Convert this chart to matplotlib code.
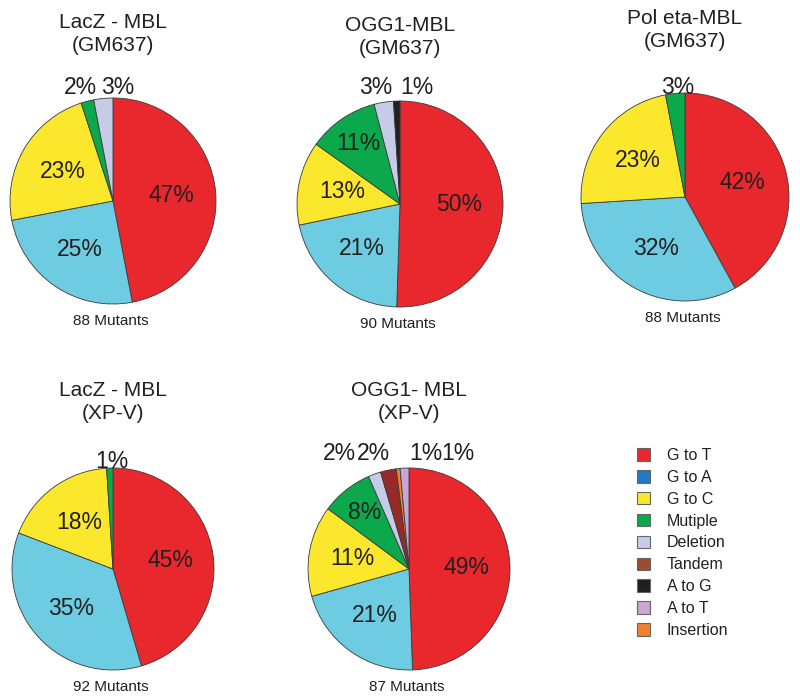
import matplotlib
matplotlib.use('Agg')
import numpy as np
import matplotlib.pyplot as plt
from matplotlib.patches import Patch

plt.rcParams['font.family'] = ['Liberation Sans', 'DejaVu Sans']

# categories (legend order = slice order, clockwise from 12 o'clock)
categories = ['G to T', 'G to A', 'G to C', 'Mutiple', 'Deletion',
              'Tandem', 'A to G', 'A to T', 'Insertion']

# pie data: titles, mutant counts, slice values (per category index), printed labels
titles = ['LacZ - MBL\n(GM637)', 'OGG1-MBL\n(GM637)', 'Pol eta-MBL\n(GM637)',
          'LacZ - MBL\n(XP-V)', 'OGG1- MBL\n(XP-V)']
mutants = [88, 90, 88, 92, 87]

lacz_gm = [47, 25, 23, 2, 3]
lacz_gm_cat = [0, 1, 2, 3, 4]
lacz_gm_lbl = ['47%', '25%', '23%', '2%', '3%']

ogg1_gm = [50, 21, 13, 11, 3, 1]
ogg1_gm_cat = [0, 1, 2, 3, 4, 6]
ogg1_gm_lbl = ['50%', '21%', '13%', '11%', '3%', '1%']

poleta_gm = [42, 32, 23, 3]
poleta_gm_cat = [0, 1, 2, 3]
poleta_gm_lbl = ['42%', '32%', '23%', '3%']

lacz_xp = [45, 35, 18, 1]
lacz_xp_cat = [0, 1, 2, 3]
lacz_xp_lbl = ['45%', '35%', '18%', '1%']

ogg1_xp = [49, 21, 14.4, 8.2, 2, 2.5, 0.6, 1.4]
ogg1_xp_cat = [0, 1, 2, 3, 4, 5, 8, 7]
ogg1_xp_lbl = ['49%', '21%', '11%', '8%', '2%', '2%', '1%', '1%']

values = [lacz_gm, ogg1_gm, poleta_gm, lacz_xp, ogg1_xp]
cats = [lacz_gm_cat, ogg1_gm_cat, poleta_gm_cat, lacz_xp_cat, ogg1_xp_cat]
labels = [lacz_gm_lbl, ogg1_gm_lbl, poleta_gm_lbl, lacz_xp_lbl, ogg1_xp_lbl]

# styling
pie_colors = ['#e8282c', '#6dcbe2', '#fbe82c', '#0ca84c', '#c6cbe8',
              '#962a28', '#231f20', '#c9a6d6', '#f0822e']
leg_colors = ['#e8282c', '#1f7bc4', '#fbe82c', '#0ca84c', '#c6cbe8',
              '#9c4e2c', '#231f20', '#c9a6d6', '#f0822e']
txt = '#231f20'

# layout in pixels (y measured from top)
centers = [(113, 201), (400, 204), (685, 197), (113, 569), (409, 569)]
radii = [103, 103, 104, 101, 101]
# offsets of small-slice labels placed above the pie
outside = [[(-33, -114), (5, -114)],
           [(-24, -116), (17, -116)],
           [(-7, -109)],
           [(-1, -108)],
           [(-70, -116), (-36, -116), (17, -116), (49, -116)]]

W, H = 800, 697
fig = plt.figure(figsize=(W / 100, H / 100), dpi=100)
ax = fig.add_axes([0, 0, 1, 1])

for i in range(5):
    cx, cy = centers[i]
    r = radii[i]
    cy_d = H - cy
    cols = [pie_colors[c] for c in cats[i]]
    wedges, _ = ax.pie(values[i], colors=cols, startangle=90, counterclock=False,
                       center=(cx, cy_d), radius=r, frame=True,
                       wedgeprops=dict(edgecolor='#3a3a3a', linewidth=0.6))
    k = 0
    for w, lbl, v in zip(wedges, labels[i], values[i]):
        pct = v / sum(values[i]) * 100
        if pct >= 5:
            mid = np.deg2rad((w.theta1 + w.theta2) / 2)
            d = 0.57 if pct >= 12 else 0.71
            ax.text(cx + d * r * np.cos(mid), cy_d + d * r * np.sin(mid), lbl,
                    ha='center', va='center', fontsize=16.5, color=txt)
        else:
            dx, dy = outside[i][k]
            k += 1
            ax.text(cx + dx, cy_d - dy, lbl, ha='center', va='center',
                    fontsize=16.5, color=txt)
    ax.text(cx, cy_d + 167, titles[i], ha='center', va='center',
            fontsize=15, color=txt, linespacing=1.25)
    ax.text(cx - 2, cy_d - r - 17, f'{mutants[i]} Mutants', ha='center',
            va='center', fontsize=11, color=txt)

handles = [Patch(facecolor=c, edgecolor='#666666', linewidth=0.8) for c in leg_colors]
ax.legend(handles, categories, loc='upper left', bbox_to_anchor=(637, H - 448),
          bbox_transform=ax.transData, frameon=False, fontsize=11.5,
          handlelength=0.82, handleheight=0.82, handletextpad=1.05,
          labelspacing=0.43, borderpad=0, borderaxespad=0, labelcolor=txt)

ax.set_xlim(0, W)
ax.set_ylim(0, H)
ax.set_aspect('auto')
ax.axis('off')

fig.savefig('out.png', dpi=100)
